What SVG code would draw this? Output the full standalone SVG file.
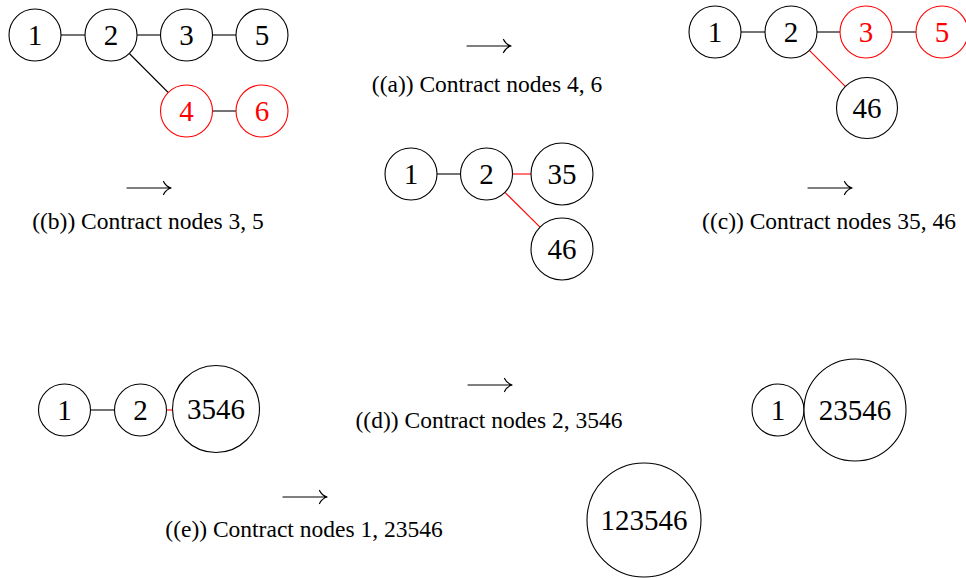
<svg xmlns="http://www.w3.org/2000/svg" width="966" height="578" viewBox="0 0 966 578">
<style>
.n{fill:#fff;stroke:#000;stroke-width:1.1}
.r{fill:#fff;stroke:#f00;stroke-width:1.1}
text{font-family:'Liberation Serif','Times New Roman',serif}
.t{font-size:29px;text-anchor:middle;fill:#000}
.tr{font-size:29px;text-anchor:middle;fill:#f00}
.cap{font-size:23.5px;text-anchor:middle;fill:#000}
.e{stroke:#000;stroke-width:1.1;fill:none}
.er{stroke:#f00;stroke-width:1.1;fill:none}
.ar{stroke:#000;stroke-width:1.2;fill:none;stroke-linecap:round}
</style>
<defs>
<g id="arrow"><path class="ar" d="M-22,0 H22 M14.5,-6.5 Q17,-1.3 22.3,0 Q17,1.3 14.5,6.5"/></g>
</defs>
<g id="connectors">
<line class="e" x1="61" y1="35" x2="85" y2="35"/>
<line class="e" x1="137" y1="35" x2="160.5" y2="35"/>
<line class="e" x1="212.5" y1="35" x2="236" y2="35"/>
<line class="e" x1="129.3" y1="53.5" x2="168.2" y2="92.5"/>
<line class="e" x1="212.5" y1="111" x2="236" y2="111"/>
<line class="e" x1="741" y1="32" x2="765" y2="32"/>
<line class="e" x1="817" y1="32" x2="840" y2="32"/>
<line class="e" x1="892" y1="32" x2="916" y2="32"/>
<line class="er" x1="809.4" y1="50.4" x2="845.8" y2="86.8"/>
<line class="e" x1="437" y1="174" x2="460.5" y2="174"/>
<line class="er" x1="512.5" y1="174" x2="531" y2="174"/>
<line class="er" x1="504.9" y1="192.3" x2="540" y2="227.1"/>
<line class="e" x1="90.5" y1="410" x2="114.5" y2="410"/>
<line class="er" x1="166.5" y1="410" x2="172.5" y2="410"/>
<line class="er" x1="803.6" y1="409.5" x2="804.4" y2="410.5"/>
</g>
<g id="step-a">
<g id="a-n1"><circle class="n" cx="35" cy="35" r="26"/><text class="t" x="35" y="45">1</text></g>
<g id="a-n2"><circle class="n" cx="111" cy="35" r="26"/><text class="t" x="111" y="45">2</text></g>
<g id="a-n3"><circle class="n" cx="186.5" cy="35" r="26"/><text class="t" x="186.5" y="45">3</text></g>
<g id="a-n5"><circle class="n" cx="262" cy="35" r="26"/><text class="t" x="262" y="45">5</text></g>
<g id="a-n4"><circle class="r" cx="186.5" cy="111" r="26"/><text class="tr" x="186.5" y="121">4</text></g>
<g id="a-n6"><circle class="r" cx="262" cy="111" r="26"/><text class="tr" x="262" y="121">6</text></g>
</g>
<g id="label-a"><use href="#arrow" x="489" y="46"/><text class="cap" x="487" y="92">((a)) Contract nodes 4, 6</text></g>
<g id="step-b">
<g id="b-n1"><circle class="n" cx="715" cy="32" r="26"/><text class="t" x="715" y="42">1</text></g>
<g id="b-n2"><circle class="n" cx="791" cy="32" r="26"/><text class="t" x="791" y="42">2</text></g>
<g id="b-n3"><circle class="r" cx="866" cy="32" r="26"/><text class="tr" x="866" y="42">3</text></g>
<g id="b-n5"><circle class="r" cx="942" cy="32" r="26"/><text class="tr" x="942" y="42">5</text></g>
<g id="b-n46"><circle class="n" cx="867" cy="108" r="30.5"/><text class="t" x="867" y="118">46</text></g>
</g>
<g id="label-b"><use href="#arrow" x="149" y="188"/><text class="cap" x="148" y="229">((b)) Contract nodes 3, 5</text></g>
<g id="step-c">
<g id="c-n1"><circle class="n" cx="411" cy="174" r="26"/><text class="t" x="411" y="184">1</text></g>
<g id="c-n2"><circle class="n" cx="486.5" cy="174" r="26"/><text class="t" x="486.5" y="184">2</text></g>
<g id="c-n35"><circle class="n" cx="562" cy="174" r="31"/><text class="t" x="562" y="184">35</text></g>
<g id="c-n46"><circle class="n" cx="562" cy="249" r="31"/><text class="t" x="562" y="259">46</text></g>
</g>
<g id="label-c"><use href="#arrow" x="830" y="188"/><text class="cap" x="829" y="229">((c)) Contract nodes 35, 46</text></g>
<g id="step-d">
<g id="d-n1"><circle class="n" cx="64.5" cy="410" r="26"/><text class="t" x="64.5" y="420">1</text></g>
<g id="d-n2"><circle class="n" cx="140.5" cy="410" r="26"/><text class="t" x="140.5" y="420">2</text></g>
<g id="d-n3546"><circle class="n" cx="216" cy="409" r="43.5"/><text class="t" x="216" y="419">3546</text></g>
</g>
<g id="label-d"><use href="#arrow" x="490" y="385"/><text class="cap" x="489" y="428">((d)) Contract nodes 2, 3546</text></g>
<g id="step-e">
<g id="e-n1"><circle class="n" cx="778" cy="410" r="26"/><text class="t" x="778" y="420">1</text></g>
<g id="e-n23546"><circle class="n" cx="855" cy="410" r="51"/><text class="t" x="855" y="420">23546</text></g>
</g>
<g id="label-e"><use href="#arrow" x="305" y="497"/><text class="cap" x="304" y="537">((e)) Contract nodes 1, 23546</text></g>
<g id="step-f">
<g id="f-n123546"><circle class="n" cx="644" cy="520" r="57"/><text class="t" x="644" y="530">123546</text></g>
</g>
</svg>
